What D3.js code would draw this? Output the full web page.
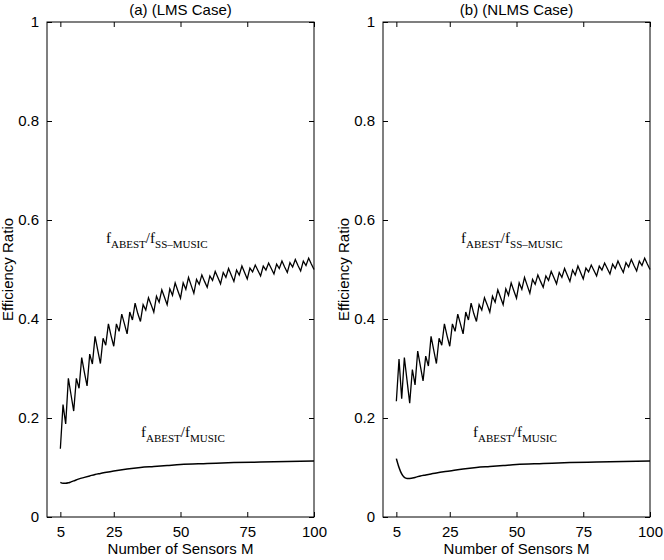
<!DOCTYPE html>
<html>
<head>
<meta charset="utf-8">
<script src="https://cdn.jsdelivr.net/npm/d3@7"></script>
<style>
  body { margin: 0; background: #fff; }
  text { font-family: "Liberation Sans", Arial, sans-serif; fill: #000; }
</style>
</head>
<body>
<div id="chart"></div>
<script>
// sensor counts for the zigzag curves
var sensors = d3.range(5, 101);

// f_ABEST / f_SS-MUSIC, LMS case (M = 5..100)
var ssLms = [0.138, 0.227, 0.188, 0.280, 0.247, 0.214, 0.280, 0.260, 0.322, 0.292,
  0.265, 0.329, 0.309, 0.365, 0.337, 0.310, 0.361, 0.347, 0.390, 0.366,
  0.345, 0.390, 0.375, 0.410, 0.390, 0.370, 0.414, 0.398, 0.432, 0.411,
  0.395, 0.429, 0.418, 0.443, 0.429, 0.414, 0.446, 0.434, 0.459, 0.444,
  0.429, 0.461, 0.448, 0.473, 0.457, 0.442, 0.473, 0.460, 0.484, 0.468,
  0.452, 0.480, 0.470, 0.489, 0.476, 0.464, 0.487, 0.478, 0.496, 0.484,
  0.471, 0.494, 0.484, 0.502, 0.489, 0.476, 0.499, 0.489, 0.507, 0.494,
  0.481, 0.503, 0.495, 0.509, 0.498, 0.487, 0.507, 0.499, 0.513, 0.502,
  0.491, 0.511, 0.502, 0.517, 0.505, 0.494, 0.514, 0.505, 0.520, 0.508,
  0.497, 0.517, 0.508, 0.523, 0.511, 0.500];

// f_ABEST / f_SS-MUSIC, NLMS case (M = 5..100)
var ssNlms = [0.234, 0.319, 0.239, 0.322, 0.276, 0.230, 0.298, 0.267, 0.335, 0.305,
  0.275, 0.325, 0.305, 0.365, 0.337, 0.310, 0.361, 0.347, 0.390, 0.366,
  0.345, 0.390, 0.375, 0.410, 0.390, 0.370, 0.414, 0.398, 0.432, 0.411,
  0.395, 0.429, 0.418, 0.443, 0.429, 0.414, 0.446, 0.434, 0.459, 0.444,
  0.429, 0.461, 0.448, 0.473, 0.457, 0.442, 0.473, 0.460, 0.484, 0.468,
  0.452, 0.480, 0.470, 0.489, 0.476, 0.464, 0.487, 0.478, 0.496, 0.484,
  0.471, 0.494, 0.484, 0.502, 0.489, 0.476, 0.499, 0.489, 0.507, 0.494,
  0.481, 0.503, 0.495, 0.509, 0.498, 0.487, 0.507, 0.499, 0.513, 0.502,
  0.491, 0.511, 0.502, 0.517, 0.505, 0.494, 0.514, 0.505, 0.520, 0.508,
  0.497, 0.517, 0.508, 0.523, 0.511, 0.500];

// f_ABEST / f_MUSIC, sampled along the smooth curves
var musicM = [5, 6, 7, 8, 9, 10, 12, 14, 16, 18, 20, 25, 30, 35, 40, 45, 50, 60, 70, 80, 90, 100];
var musicLms = [0.070, 0.068, 0.068, 0.069, 0.071, 0.073, 0.077, 0.080, 0.083, 0.086, 0.088, 0.093,
  0.097, 0.100, 0.102, 0.104, 0.106, 0.108, 0.110, 0.111, 0.112, 0.113];
var musicNlms = [0.118, 0.100, 0.087, 0.080, 0.078, 0.078, 0.080, 0.083, 0.085, 0.087, 0.089, 0.093,
  0.097, 0.100, 0.102, 0.104, 0.106, 0.108, 0.110, 0.111, 0.112, 0.113];

var xTicks = [5, 25, 50, 75, 100];
var yTicks = [0, 0.2, 0.4, 0.6, 0.8, 1];
var titles = ["(a) (LMS Case)", "(b) (NLMS Case)"];

var W = 664, H = 560;
var panelW = 267, plotTop = 22, plotBottom = 517;
var lefts = [47, 383];

var svg = d3.select("#chart").append("svg")
    .attr("width", W)
    .attr("height", H);

var panels = [
  {title: titles[0], ss: ssLms, music: musicLms, ssAnn: [106, 243], muAnn: [141, 437]},
  {title: titles[1], ss: ssNlms, music: musicNlms, ssAnn: [461, 243], muAnn: [473, 437]}
];

panels.forEach(function(p, i) {
  var x0 = lefts[i];
  var x = d3.scaleLinear().domain([0, 100]).range([x0, x0 + panelW]);
  var y = d3.scaleLinear().domain([0, 1]).range([plotBottom, plotTop]);
  var g = svg.append("g");

  // box
  g.append("rect")
    .attr("x", x0).attr("y", plotTop)
    .attr("width", panelW).attr("height", plotBottom - plotTop)
    .attr("fill", "none").attr("stroke", "#000").attr("stroke-width", 1);

  // axes with inward ticks (matlab look)
  var xb = g.append("g").attr("transform", "translate(0," + plotBottom + ")")
    .call(d3.axisBottom(x).tickValues(xTicks).tickSizeInner(-5).tickSizeOuter(0).tickPadding(9));
  var xt = g.append("g").attr("transform", "translate(0," + plotTop + ")")
    .call(d3.axisTop(x).tickValues(xTicks).tickSizeInner(-5).tickSizeOuter(0).tickFormat(""));
  var yl = g.append("g").attr("transform", "translate(" + x0 + ",0)")
    .call(d3.axisLeft(y).tickValues(yTicks).tickSizeInner(-5).tickSizeOuter(0).tickPadding(8)
      .tickFormat(function(d) { return d === 0 || d === 1 ? d : d3.format(".1f")(d); }));
  var yr = g.append("g").attr("transform", "translate(" + (x0 + panelW) + ",0)")
    .call(d3.axisRight(y).tickValues(yTicks).tickSizeInner(-5).tickSizeOuter(0).tickFormat(""));
  [xb, xt, yl, yr].forEach(function(a) {
    a.select(".domain").remove();
    a.selectAll("line").attr("stroke", "#000");
    a.selectAll("text").attr("font-size", 15).attr("font-family", "Liberation Sans, Arial, sans-serif");
  });

  // labels
  g.append("text")
    .attr("x", x0 + panelW / 2).attr("y", 15)
    .attr("text-anchor", "middle").attr("font-size", 15)
    .text(p.title);
  g.append("text")
    .attr("x", x0 + panelW / 2).attr("y", 554)
    .attr("text-anchor", "middle").attr("font-size", 15)
    .text("Number of Sensors M");
  g.append("text")
    .attr("transform", "translate(" + (x0 - 34) + "," + ((plotTop + plotBottom) / 2) + ") rotate(-90)")
    .attr("text-anchor", "middle").attr("font-size", 15)
    .text("Efficiency Ratio");

  // curves
  var line = d3.line().x(function(d) { return x(d[0]); }).y(function(d) { return y(d[1]); });
  g.append("path")
    .datum(sensors.map(function(m, k) { return [m, p.ss[k]]; }))
    .attr("d", line)
    .attr("fill", "none").attr("stroke", "#000").attr("stroke-width", 1.3);
  g.append("path")
    .datum(musicM.map(function(m, k) { return [m, p.music[k]]; }))
    .attr("d", line.curve(d3.curveMonotoneX))
    .attr("fill", "none").attr("stroke", "#000").attr("stroke-width", 1.5);

  // annotations
  function ann(pos, sub2) {
    var t = g.append("text")
      .attr("x", pos[0]).attr("y", pos[1]).attr("font-size", 15)
      .style("font-family", "'Liberation Serif', 'Times New Roman', serif");
    t.append("tspan").text("f");
    t.append("tspan").attr("font-size", 11).attr("dy", 5).text("ABEST");
    t.append("tspan").attr("dy", -5).text("/f");
    t.append("tspan").attr("font-size", 11).attr("dy", 5).text(sub2);
  }
  ann(p.ssAnn, "SS–MUSIC");
  ann(p.muAnn, "MUSIC");
});
</script>
</body>
</html>
